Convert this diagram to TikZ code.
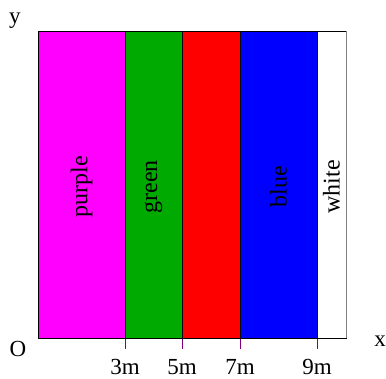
\documentclass[tikz,border=0pt]{standalone}
\usepackage{fontspec}
\setmainfont{Liberation Serif}
\definecolor{stripmagenta}{RGB}{255,0,255}
\definecolor{stripgreen}{RGB}{0,170,0}
\definecolor{stripred}{RGB}{255,0,0}
\definecolor{stripblue}{RGB}{0,0,255}
\definecolor{tickpurple}{RGB}{128,0,128}
\begin{document}
\begin{tikzpicture}[x=1pt,y=1pt,
    lbl/.style={font=\fontsize{23}{26}\selectfont, inner sep=0pt, anchor=base},
    striplbl/.style={font=\fontsize{24}{27}\selectfont, inner sep=0pt, rotate=90}]
        \useasboundingbox (-38,-41) rectangle (348,338);
            \foreach \a/\b/\c in {0/87/stripmagenta, 87/144/stripgreen, 144/202/stripred, 202/279/stripblue, 279/308/white} {
                    \filldraw[fill=\c, draw=black] (\a,0) rectangle (\b,307);
                }
            \draw[gray, thick] (308,0) -- (308,307);
            \foreach \a/\b/\t in {0/87/purple, 87/144/green, 202/279/blue, 279/308/white} {
                    \node[striplbl] (lbl-\t) at ({(\a+\b)/2},151) {\t};
                }
            \foreach \x/\y in {3/87, 5/144, 7/202, 9/279} {
                    \coordinate (t\x) at (\y,0);
                    \draw[tickpurple, thick] (t\x) -- ++(0,-11) coordinate (e\x);
                    \node[lbl] (m\x) at (\y,-37) {\x m};
                }
            \draw[black, thick] (0,0) -- (308,0);
            \node[lbl] (yaxis) at (-23,314) {y};
            \node[lbl] (origin) at (-20,-19) {O};
            \node[lbl] (xaxis) at (342,-9) {x};
        \end{tikzpicture}
\end{document}
